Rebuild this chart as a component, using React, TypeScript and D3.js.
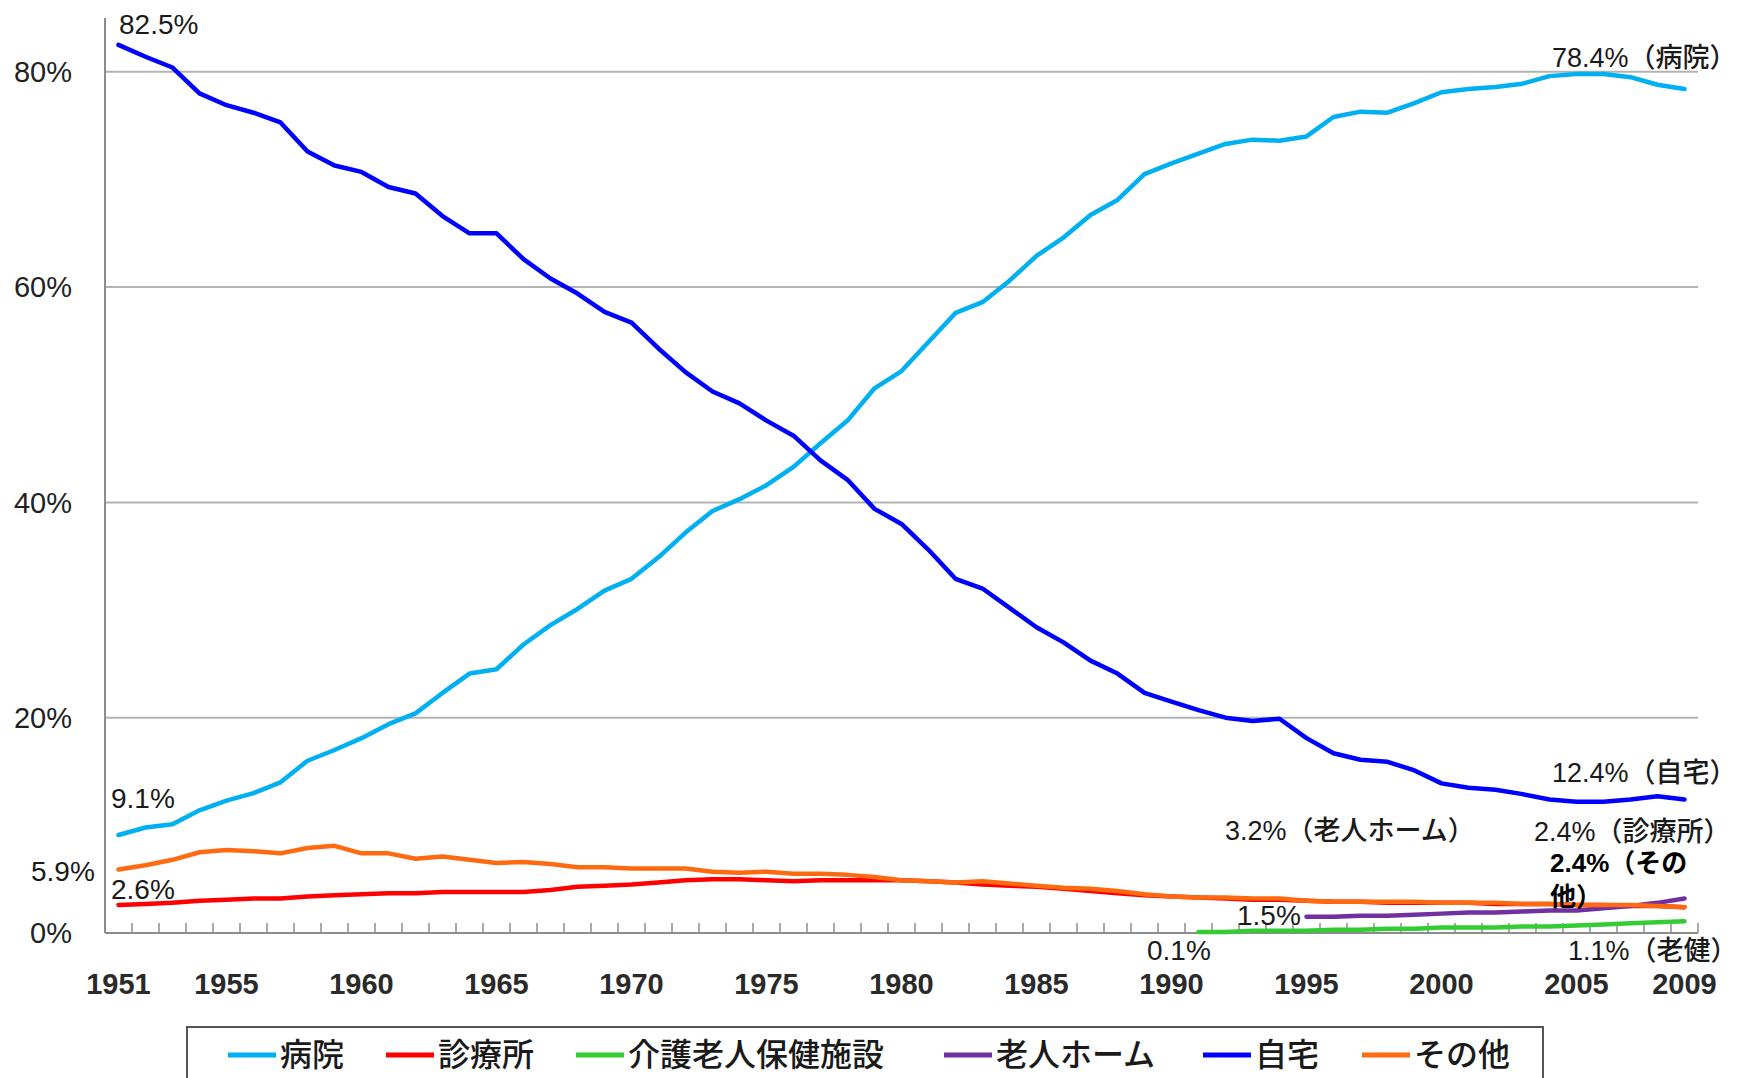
import * as d3 from "d3";

// 死亡場所別の死亡割合（%） 1951〜2009年
const years = d3.range(1951, 2010);

const hospital = [
  9.1, 9.8, 10.1, 11.4, 12.3, 13.0, 14.0, 16.0, 17.0, 18.1,
  19.4, 20.4, 22.3, 24.1, 24.5, 26.8, 28.6, 30.1, 31.8, 32.9,
  34.9, 37.2, 39.2, 40.3, 41.6, 43.3, 45.5, 47.6, 50.6, 52.2,
  54.9, 57.6, 58.6, 60.6, 62.9, 64.6, 66.7, 68.1, 70.5, 71.5,
  72.4, 73.3, 73.7, 73.6, 74.0, 75.8, 76.3, 76.2, 77.1, 78.1,
  78.4, 78.6, 78.9, 79.6, 79.8, 79.8, 79.5, 78.8, 78.4,
];

const clinic = [
  2.6, 2.7, 2.8, 3.0, 3.1, 3.2, 3.2, 3.4, 3.5, 3.6,
  3.7, 3.7, 3.8, 3.8, 3.8, 3.8, 4.0, 4.3, 4.4, 4.5,
  4.7, 4.9, 5.0, 5.0, 4.9, 4.8, 4.9, 4.9, 4.9, 4.9,
  4.8, 4.7, 4.5, 4.4, 4.3, 4.1, 3.9, 3.7, 3.5, 3.4,
  3.3, 3.2, 3.1, 3.1, 3.0, 2.9, 2.9, 2.8, 2.8, 2.8,
  2.8, 2.7, 2.7, 2.7, 2.6, 2.6, 2.5, 2.5, 2.4,
];

// 介護老人保健施設 (1991〜)
const rokenStart = 1991;
const roken = [
  0.1, 0.1, 0.2, 0.2, 0.2, 0.3, 0.3, 0.4, 0.4, 0.5,
  0.5, 0.5, 0.6, 0.6, 0.7, 0.8, 0.9, 1.0, 1.1,
];

// 老人ホーム (1995〜)
const homeForElderlyStart = 1995;
const homeForElderly = [
  1.5, 1.5, 1.6, 1.6, 1.7, 1.8, 1.9, 1.9, 2.0, 2.1, 2.1, 2.3, 2.5, 2.8, 3.2,
];

const home = [
  82.5, 81.4, 80.4, 78.0, 76.9, 76.2, 75.3, 72.6, 71.3, 70.7,
  69.3, 68.7, 66.6, 65.0, 65.0, 62.6, 60.8, 59.4, 57.7, 56.7,
  54.3, 52.1, 50.3, 49.2, 47.6, 46.2, 43.9, 42.1, 39.4, 38.0,
  35.6, 32.9, 32.0, 30.2, 28.4, 27.0, 25.3, 24.1, 22.3, 21.5,
  20.7, 20.0, 19.7, 19.9, 18.1, 16.7, 16.1, 15.9, 15.1, 13.9,
  13.5, 13.3, 12.9, 12.4, 12.2, 12.2, 12.4, 12.7, 12.4,
];

const other = [
  5.9, 6.3, 6.8, 7.5, 7.7, 7.6, 7.4, 7.9, 8.1, 7.4,
  7.4, 6.9, 7.1, 6.8, 6.5, 6.6, 6.4, 6.1, 6.1, 6.0,
  6.0, 6.0, 5.7, 5.6, 5.7, 5.5, 5.5, 5.4, 5.2, 4.9,
  4.8, 4.7, 4.8, 4.6, 4.4, 4.2, 4.1, 3.9, 3.6, 3.4,
  3.3, 3.3, 3.2, 3.2, 3.0, 2.9, 2.9, 2.9, 2.9, 2.8,
  2.8, 2.8, 2.7, 2.7, 2.6, 2.6, 2.6, 2.5, 2.4,
];

const seriesNames = ["病院", "診療所", "介護老人保健施設", "老人ホーム", "自宅", "その他"];
const seriesColors = ["#00b0f0", "#ff0000", "#33cc33", "#7030a0", "#0000ff", "#ff6a10"];
const yTicks = [0, 20, 40, 60, 80];
const xLabelYears = [1951, 1955, 1960, 1965, 1970, 1975, 1980, 1985, 1990, 1995, 2000, 2005, 2009];

const W = 1738;
const H = 1078;
const margin = { top: 18, right: 40, bottom: 145, left: 105 };

const FONT = "'Liberation Sans', 'Noto Sans CJK JP', sans-serif";
const JP = "'Noto Sans CJK JP', sans-serif";

const App = () => {
  const x = d3
    .scaleBand<number>()
    .domain(years)
    .range([margin.left, W - margin.right])
    .padding(0);
  const bw = x.bandwidth();
  const cx = (yr: number) => (x(yr) as number) + bw / 2;

  const y = d3.scaleLinear().domain([0, 85]).range([H - margin.bottom, margin.top]);

  const line = d3
    .line<{ yr: number; v: number }>()
    .x((d) => cx(d.yr))
    .y((d) => y(d.v));

  const toPts = (vals: number[], start = 1951) => vals.map((v, i) => ({ yr: start + i, v }));

  const series = [
    toPts(hospital),
    toPts(clinic),
    toPts(roken, rokenStart),
    toPts(homeForElderly, homeForElderlyStart),
    toPts(home),
    toPts(other),
  ];

  const x0 = margin.left;
  const x1 = W - margin.right;
  const yBase = y(0);

  // 凡例の位置（線の始点）
  const legendX = [228, 386, 576, 944, 1203, 1362];
  const legendY = 1055;

  const annoStyle = { fontFamily: FONT, fontSize: 28, fill: "#1a1a1a" } as const;
  const annoJp = { ...annoStyle, fontSize: 27, fontWeight: 500 } as const;

  return (
    <svg width={W} height={H} style={{ position: "absolute", left: 0, top: 0, background: "#fff" }}>
      {/* grid */}
      {yTicks.filter((t) => t > 0).map((t) => (
        <line key={t} x1={x0} x2={x1} y1={y(t)} y2={y(t)} stroke="#b3b3b3" strokeWidth={2} />
      ))}
      {/* axes */}
      <line x1={x0} x2={x0} y1={margin.top} y2={yBase} stroke="#8c8c8c" strokeWidth={2} />
      <line x1={x0} x2={x1} y1={yBase} y2={yBase} stroke="#8c8c8c" strokeWidth={2} />
      {years.map((yr, i) => (
        <line
          key={yr}
          x1={x0 + (i + 1) * bw}
          x2={x0 + (i + 1) * bw}
          y1={yBase}
          y2={yBase - 10}
          stroke="#8c8c8c"
          strokeWidth={1.5}
        />
      ))}
      {/* y labels */}
      {yTicks.map((t) => (
        <text
          key={t}
          x={72}
          y={y(t)}
          dy="0.35em"
          textAnchor="end"
          style={{ fontFamily: FONT, fontSize: 29, fill: "#222" }}
        >
          {t}%
        </text>
      ))}
      {/* x labels */}
      {xLabelYears.map((yr) => (
        <text
          key={yr}
          x={cx(yr)}
          y={984}
          dy="0.35em"
          textAnchor="middle"
          style={{ fontFamily: FONT, fontSize: 29, fontWeight: 700, fill: "#2a2a2a" }}
        >
          {yr}
        </text>
      ))}
      {/* lines */}
      {series.map((pts, i) => (
        <path
          key={seriesNames[i]}
          d={line(pts) ?? ""}
          fill="none"
          stroke={seriesColors[i]}
          strokeWidth={4.5}
          strokeLinejoin="round"
          strokeLinecap="round"
        />
      ))}
      {/* annotations */}
      <text x={119} y={24} dy="0.35em" style={annoStyle}>82.5%</text>
      <text x={111} y={798} dy="0.35em" style={annoStyle}>9.1%</text>
      <text x={31} y={871} dy="0.35em" style={annoStyle}>5.9%</text>
      <text x={111} y={889} dy="0.35em" style={annoStyle}>2.6%</text>
      <text x={1552} y={58} dy="0.35em" style={annoJp}>78.4%（病院）</text>
      <text x={1552} y={773} dy="0.35em" style={annoJp}>12.4%（自宅）</text>
      <text x={1225} y={831} dy="0.35em" style={annoJp}>3.2%（老人ホーム）</text>
      <text x={1534} y={832} dy="0.35em" style={annoJp}>2.4%（診療所）</text>
      <text x={1550} y={863} dy="0.35em" style={{ ...annoStyle, fontSize: 26, fontWeight: 700, fill: "#000" }}>2.4%（その</text>
      <text x={1550} y={897} dy="0.35em" style={{ ...annoStyle, fontSize: 26, fontWeight: 700, fill: "#000" }}>他）</text>
      <text x={1237} y={915} dy="0.35em" style={annoStyle}>1.5%</text>
      <text x={1147} y={950} dy="0.35em" style={annoStyle}>0.1%</text>
      <text x={1568} y={951} dy="0.35em" style={annoJp}>1.1%（老健）</text>
      {/* legend */}
      <rect x={187} y={1027} width={1356} height={80} fill="#fff" stroke="#555" strokeWidth={2} />
      {seriesNames.map((name, i) => (
        <g key={name}>
          <line
            x1={legendX[i]}
            x2={legendX[i] + 48}
            y1={legendY}
            y2={legendY}
            stroke={seriesColors[i]}
            strokeWidth={5}
          />
          <text
            x={legendX[i] + 52}
            y={legendY}
            dy="0.35em"
            style={{ fontFamily: JP, fontSize: 32, fontWeight: 500, fill: "#1a1a1a" }}
          >
            {name}
          </text>
        </g>
      ))}
    </svg>
  );
};

export default App;
